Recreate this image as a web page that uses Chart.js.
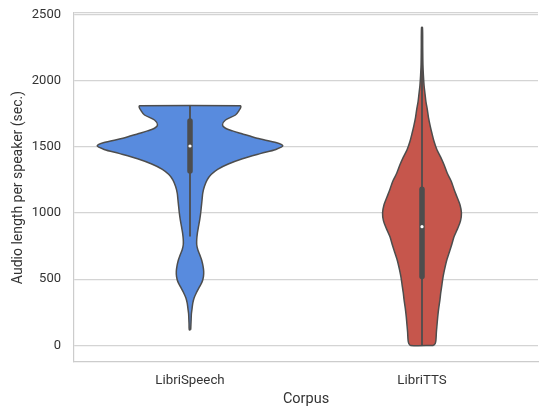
<!DOCTYPE html>
<html>
<head>
    <title>Audio length per speaker</title>
    <script src="https://cdn.jsdelivr.net/npm/chart.js"></script>
    <style>
        body { margin: 0; background: #fff; }
        #wrap { width: 542px; height: 407px; }
    </style>
</head>
<body>
    <div id="wrap"><canvas id="violinChart"></canvas></div>
    <script>
        // categories on the x axis
        const corpora = ['LibriSpeech', 'LibriTTS'];
        const yTicks = [0, 500, 1000, 1500, 2000, 2500];

        // violin profiles: value (sec.) and half width (in category units)
        const lsValues = [118, 160, 200, 240, 280, 320, 360, 400, 440, 480, 520, 560, 600, 640, 680, 720, 760, 800, 850, 900, 950, 1000, 1050, 1100, 1150, 1200, 1250, 1290, 1330, 1370, 1410, 1450, 1480, 1506, 1530, 1564, 1600, 1620, 1640, 1664, 1702, 1740, 1778, 1800, 1810];
        const lsWidths = [0.003, 0.004, 0.005, 0.006, 0.009, 0.012, 0.018, 0.028, 0.040, 0.052, 0.058, 0.059, 0.056, 0.051, 0.043, 0.034, 0.029, 0.029, 0.032, 0.037, 0.042, 0.046, 0.049, 0.052, 0.055, 0.062, 0.074, 0.091, 0.119, 0.165, 0.226, 0.306, 0.370, 0.400, 0.374, 0.289, 0.221, 0.183, 0.153, 0.140, 0.153, 0.196, 0.213, 0.219, 0.217];
        const ttsValues = [0, 15, 40, 100, 160, 220, 280, 340, 400, 460, 520, 580, 640, 700, 760, 820, 880, 940, 1000, 1060, 1120, 1180, 1240, 1300, 1360, 1420, 1480, 1540, 1600, 1660, 1720, 1780, 1840, 1900, 1960, 2040, 2120, 2250, 2401];
        const ttsWidths = [0.049, 0.057, 0.060, 0.062, 0.065, 0.068, 0.072, 0.077, 0.081, 0.086, 0.091, 0.098, 0.106, 0.117, 0.128, 0.138, 0.153, 0.166, 0.170, 0.164, 0.151, 0.138, 0.126, 0.109, 0.096, 0.081, 0.064, 0.052, 0.043, 0.035, 0.028, 0.023, 0.017, 0.013, 0.009, 0.006, 0.004, 0.003, 0.002];

        // inner box: whisker low/high, quartiles, median
        const whiskerLow = [822, 0];
        const whiskerHigh = [1807, 2401];
        const q1 = [1317, 520];
        const q3 = [1694, 1179];
        const medians = [1506, 897];

        const fills = ['#588BDE', '#C6564C'];
        const edge = '#4d4d4d';

        function outline(center, vals, widths) {
            const right = vals.map((v, i) => ({ x: center + widths[i], y: v }));
            const left = vals.map((v, i) => ({ x: center - widths[i], y: v })).reverse();
            const pts = right.concat(left);
            pts.push(pts[0]);
            return pts;
        }

        const datasets = [
            {
                data: outline(0, lsValues, lsWidths), order: 3,
                backgroundColor: fills[0], borderColor: edge, borderWidth: 1.5,
                fill: 'shape', showLine: true, pointRadius: 0, tension: 0.3
            },
            {
                data: outline(1, ttsValues, ttsWidths), order: 3,
                backgroundColor: fills[1], borderColor: edge, borderWidth: 1.5,
                fill: 'shape', showLine: true, pointRadius: 0, tension: 0.3
            }
        ];
        corpora.forEach((c, i) => {
            datasets.push({
                data: [{ x: i, y: whiskerLow[i] }, { x: i, y: whiskerHigh[i] }], order: 2,
                borderColor: edge, borderWidth: 1.8, showLine: true, pointRadius: 0, fill: false
            });
            datasets.push({
                data: [{ x: i, y: q1[i] }, { x: i, y: q3[i] }], order: 1,
                borderColor: edge, borderWidth: 5.5, borderCapStyle: 'round',
                showLine: true, pointRadius: 0, fill: false
            });
            datasets.push({
                data: [{ x: i, y: medians[i] }], order: 0,
                pointRadius: 1.6, pointBackgroundColor: '#ffffff', pointBorderWidth: 0,
                showLine: false
            });
        });

        const ctx = document.getElementById('violinChart').getContext('2d');
        const chart = new Chart(ctx, {
            type: 'scatter',
            data: { datasets: datasets },
            options: {
                responsive: true,
                maintainAspectRatio: false,
                animation: false,
                layout: { padding: { top: 13, right: 0, left: 0, bottom: 0 } },
                plugins: { legend: { display: false }, tooltip: { enabled: false } },
                scales: {
                    x: {
                        type: 'linear',
                        min: -0.5,
                        max: 1.5,
                        afterBuildTicks: s => { s.ticks = corpora.map((c, i) => ({ value: i })); },
                        afterFit: s => { s.height = 45; s.paddingLeft = 0; s.paddingRight = 0; },
                        ticks: {
                            callback: v => corpora[v],
                            color: '#333',
                            font: { family: 'Roboto', size: 13.3 },
                            padding: 11
                        },
                        grid: { display: false, drawTicks: false },
                        border: { display: true, color: '#cccccc', width: 1.2 },
                        title: {
                            display: true, text: 'Corpus', color: '#333',
                            font: { family: 'Roboto', size: 14.5, lineHeight: 1 }, padding: { top: 0, bottom: 0 }
                        }
                    },
                    y: {
                        min: -125,
                        max: 2510,
                        afterBuildTicks: s => {
                            s.ticks = yTicks.map(v => ({ value: v })).concat([{ value: 2510 }]);
                        },
                        afterFit: s => { s.width = 74; s.paddingTop = 0; s.paddingBottom = 0; },
                        ticks: {
                            callback: v => (yTicks.includes(v) ? String(v) : ''),
                            color: '#333',
                            font: { family: 'Roboto', size: 13 },
                            padding: 13
                        },
                        grid: { color: '#d4d4d4', lineWidth: 1.2, drawTicks: false },
                        border: { display: true, color: '#cccccc', width: 1.2 },
                        title: {
                            display: true, text: 'Audio length per speaker (sec.)', color: '#333',
                            font: { family: 'Roboto', size: 14 }, padding: { top: 10, bottom: 0 }
                        }
                    }
                }
            }
        });
    </script>
</body>
</html>
